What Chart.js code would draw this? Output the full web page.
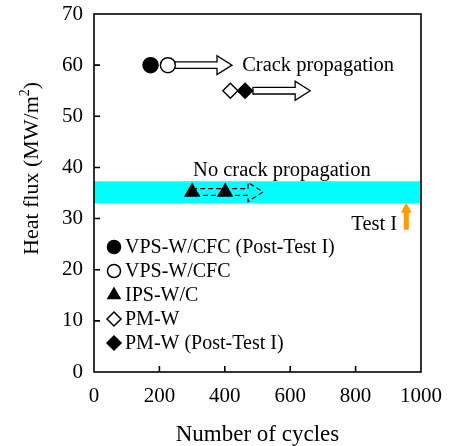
<!DOCTYPE html>
<html>
<head>
<meta charset="utf-8">
<script src="https://cdn.jsdelivr.net/npm/chart.js@4.4.0/dist/chart.umd.min.js"></script>
<style>
  body { margin: 0; background: #fff; }
  #wrap { position: relative; width: 449px; height: 446px; }
</style>
</head>
<body>
<div id="wrap"><canvas id="chart"></canvas></div>
<script>
// series (cycles, heat flux MW/m2)
const seriesLabels = ['VPS-W/CFC (Post-Test I)', 'VPS-W/CFC', 'IPS-W/C', 'PM-W', 'PM-W (Post-Test I)'];
const vpsPostCycles = [173], vpsPostFlux = [60];
const vpsCycles = [226], vpsFlux = [60];
const ipsCycles = [300, 401], ipsFlux = [35.2, 35.2];
const pmCycles = [417], pmFlux = [55];
const pmPostCycles = [462], pmPostFlux = [55];

// no crack propagation band
const bandFlux = [33.0, 37.3];

// arrows
const crackArrowFrom = [242, 486], crackArrowTo = [422, 661], crackArrowFlux = [60, 55];
const ipsArrowFrom = 300, ipsArrowTo = 517, ipsArrowFlux = 35.2;
const testCycle = 955, testArrowFrom = 27.8, testArrowTo = 33.1;

// annotations
const noteText = ['Crack propagation', 'No crack propagation', 'Test I'];
const noteCycles = [453, 303, 927];
const noteFlux = [58.9, 38.3, 27.8];

const FONT = 'Liberation Serif';

function pts(xs, ys) {
  return xs.map((x, i) => ({ x: x, y: ys[i] }));
}

function marker(ctx, style, filled, x, y, r) {
  ctx.beginPath();
  if (style === 'circle') {
    ctx.arc(x, y, r, 0, Math.PI * 2);
  } else if (style === 'triangle') {
    ctx.moveTo(x, y - r);
    ctx.lineTo(x + r * 0.866, y + r / 2);
    ctx.lineTo(x - r * 0.866, y + r / 2);
    ctx.closePath();
  } else {
    ctx.moveTo(x - r, y);
    ctx.lineTo(x, y - r);
    ctx.lineTo(x + r, y);
    ctx.lineTo(x, y + r);
    ctx.closePath();
  }
  ctx.fillStyle = filled ? '#000' : '#fff';
  ctx.fill();
  ctx.lineWidth = 1.5;
  ctx.strokeStyle = '#000';
  ctx.stroke();
}

function blockArrow(ctx, x0, x1, y, dashed) {
  const sh = 3.3, hh = 9.5, hl = 15;
  ctx.save();
  ctx.beginPath();
  ctx.moveTo(x0, y - sh);
  ctx.lineTo(x1 - hl, y - sh);
  ctx.lineTo(x1 - hl, y - hh);
  ctx.lineTo(x1, y);
  ctx.lineTo(x1 - hl, y + hh);
  ctx.lineTo(x1 - hl, y + sh);
  ctx.lineTo(x0, y + sh);
  ctx.strokeStyle = '#000';
  ctx.lineWidth = 1.3;
  if (dashed) {
    ctx.setLineDash([5, 3]);
  } else {
    ctx.closePath();
    ctx.fillStyle = '#fff';
    ctx.fill();
  }
  ctx.stroke();
  ctx.restore();
}

const extras = {
  id: 'extras',
  beforeDatasetsDraw(chart) {
    const { ctx, chartArea: a, scales: { x, y } } = chart;
    ctx.save();
    ctx.fillStyle = '#00ffff';
    const yTop = y.getPixelForValue(bandFlux[1]);
    const yBot = y.getPixelForValue(bandFlux[0]);
    ctx.fillRect(a.left, yTop, a.right - a.left, yBot - yTop);
    ctx.restore();

    crackArrowFrom.forEach((c, i) => {
      blockArrow(ctx, x.getPixelForValue(c), x.getPixelForValue(crackArrowTo[i]),
        y.getPixelForValue(crackArrowFlux[i]), false);
    });
    blockArrow(ctx, x.getPixelForValue(ipsArrowFrom), x.getPixelForValue(ipsArrowTo),
      y.getPixelForValue(ipsArrowFlux), true);
  },
  afterDraw(chart) {
    const { ctx, chartArea: a, scales: { x, y } } = chart;
    ctx.save();
    // frame and inward ticks
    ctx.strokeStyle = '#000';
    ctx.lineWidth = 1.6;
    ctx.strokeRect(a.left, a.top, a.right - a.left, a.bottom - a.top);
    ctx.beginPath();
    y.ticks.forEach(t => {
      if (t.value <= 0 || t.value >= 70) return;
      const py = y.getPixelForValue(t.value);
      ctx.moveTo(a.left, py);
      ctx.lineTo(a.left + 6, py);
    });
    x.ticks.forEach(t => {
      if (t.value <= 0 || t.value >= 1000) return;
      const px = x.getPixelForValue(t.value);
      ctx.moveTo(px, a.bottom);
      ctx.lineTo(px, a.bottom - 6);
    });
    ctx.stroke();

    // y axis title with superscript
    ctx.save();
    ctx.translate(a.left - 56, a.bottom - 117);
    ctx.rotate(-Math.PI / 2);
    ctx.fillStyle = '#000';
    ctx.textAlign = 'left';
    ctx.textBaseline = 'alphabetic';
    ctx.font = '22px "' + FONT + '"';
    const head = 'Heat flux (MW/m';
    ctx.fillText(head, 0, 0);
    let w = ctx.measureText(head).width;
    ctx.font = '14px "' + FONT + '"';
    ctx.fillText('2', w, -9);
    w += ctx.measureText('2').width;
    ctx.font = '22px "' + FONT + '"';
    ctx.fillText(')', w, 0);
    ctx.restore();

    // orange arrow
    const ax = x.getPixelForValue(testCycle);
    const ay0 = y.getPixelForValue(testArrowFrom);
    const ay1 = y.getPixelForValue(testArrowTo);
    ctx.fillStyle = '#ff9a00';
    ctx.beginPath();
    ctx.moveTo(ax - 2.5, ay0);
    ctx.lineTo(ax - 2.5, ay1 + 10);
    ctx.lineTo(ax - 5.5, ay1 + 10);
    ctx.lineTo(ax, ay1);
    ctx.lineTo(ax + 5.5, ay1 + 10);
    ctx.lineTo(ax + 2.5, ay1 + 10);
    ctx.lineTo(ax + 2.5, ay0);
    ctx.closePath();
    ctx.fill();

    // notes
    ctx.fillStyle = '#000';
    ctx.font = '20.5px "' + FONT + '"';
    ctx.textBaseline = 'alphabetic';
    noteText.forEach((t, i) => {
      ctx.textAlign = i === 2 ? 'right' : 'left';
      ctx.fillText(t, x.getPixelForValue(noteCycles[i]), y.getPixelForValue(noteFlux[i]));
    });

    // legend
    ctx.font = '20px "' + FONT + '"';
    ctx.textAlign = 'left';
    ctx.textBaseline = 'middle';
    chart.data.datasets.forEach((ds, i) => {
      const ly = a.bottom - 125 + i * 24;
      const lx = a.left + 20;
      marker(ctx, ds.pointStyle, ds.pointBackgroundColor === '#000', lx, ly, ds.pointStyle === 'circle' ? 6.5 : 7);
      ctx.fillStyle = '#000';
      ctx.fillText(ds.label, lx + 11, ly + 1);
    });
    ctx.restore();
  }
};

function makeSet(i, xs, ys, style, filled, r) {
  return {
    label: seriesLabels[i],
    data: pts(xs, ys),
    pointStyle: style,
    pointRadius: r,
    pointBackgroundColor: filled ? '#000' : '#fff',
    pointBorderColor: '#000',
    pointBorderWidth: 1.5,
    showLine: false
  };
}

new Chart(document.getElementById('chart'), {
  type: 'scatter',
  data: {
    datasets: [
      makeSet(0, vpsPostCycles, vpsPostFlux, 'circle', true, 7.5),
      makeSet(1, vpsCycles, vpsFlux, 'circle', false, 7.5),
      makeSet(2, ipsCycles, ipsFlux, 'triangle', true, 8),
      makeSet(3, pmCycles, pmFlux, 'rectRot', false, 7.5),
      makeSet(4, pmPostCycles, pmPostFlux, 'rectRot', true, 7.5)
    ]
  },
  options: {
    responsive: true,
    maintainAspectRatio: false,
    animation: false,
    layout: { padding: { left: 0, top: 14, right: 28, bottom: 0 } },
    plugins: { legend: { display: false }, tooltip: { enabled: false } },
    scales: {
      x: {
        type: 'linear', min: 0, max: 1000,
        afterFit(s) { s.height = 74; s.paddingLeft = 0; s.paddingRight = 0; },
        grid: { display: false, drawTicks: false },
        border: { display: false },
        ticks: { stepSize: 200, padding: 12, color: '#000', font: { family: FONT, size: 21 },
                 callback: v => String(v) },
        title: { display: true, text: 'Number of cycles', color: '#000', padding: { top: 0, bottom: 0 },
                 font: { family: FONT, size: 23, lineHeight: 1 } }
      },
      y: {
        min: 0, max: 70,
        afterFit(s) { s.width = 94; s.paddingTop = 0; s.paddingBottom = 0; },
        grid: { display: false, drawTicks: false },
        border: { display: false },
        ticks: { stepSize: 10, padding: 11, color: '#000', font: { family: FONT, size: 21 } }
      }
    }
  },
  plugins: [extras]
});
</script>
</body>
</html>
